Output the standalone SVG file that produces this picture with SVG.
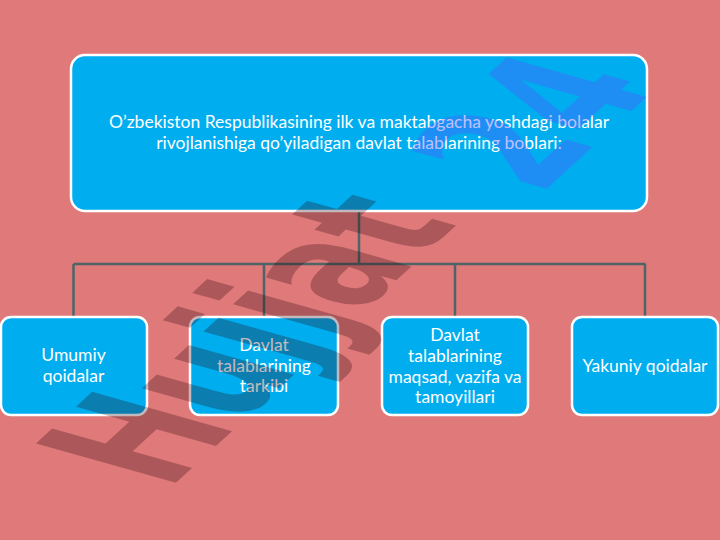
<svg xmlns="http://www.w3.org/2000/svg" width="720" height="540" viewBox="0 0 720 540">
<style>
.bg{fill:#E07A7A}
.box{fill:#00AEEF;stroke:#FFFFFF;stroke-width:2.5}
.lbl{font-family:Lato,"Open Sans","Liberation Sans",sans-serif;font-size:17.5px;fill:#FFFFFF;text-anchor:middle}
.conn{stroke:#4E6466;stroke-width:2.5;fill:none}
.wm{font-family:"DejaVu Sans",sans-serif;font-weight:bold;font-size:100px}
</style>
<rect class="bg" x="0" y="0" width="720" height="540"/>
<g id="connectors">
<path class="conn" d="M359,211 V264"/>
<path class="conn" d="M73.5,264 H645.5"/>
<path class="conn" d="M73.5,264 V317 M264,264 V317 M455,264 V317 M645,264 V317"/>
</g>
<g id="root">
<rect class="box" x="71" y="55" width="576" height="156" rx="14"/>
<text class="lbl" x="359" y="128">O’zbekiston Respublikasining ilk va maktabgacha yoshdagi bolalar</text>
<text class="lbl" x="359" y="149">rivojlanishiga qo’yiladigan davlat talablarining boblari:</text>
</g>
<g id="n1">
<rect class="box" x="1" y="317" width="146" height="98" rx="10"/>
<text class="lbl" x="73.5" y="361">Umumiy</text>
<text class="lbl" x="73.5" y="382">qoidalar</text>
</g>
<g id="n2">
<rect class="box" x="190" y="317" width="148" height="98" rx="10"/>
<text class="lbl" x="264" y="351">Davlat</text>
<text class="lbl" x="264" y="371.5">talablarining</text>
<text class="lbl" x="264" y="391.5">tarkibi</text>
</g>
<g id="n3">
<rect class="box" x="382" y="317" width="146" height="98" rx="10"/>
<text class="lbl" x="455" y="341">Davlat</text>
<text class="lbl" x="455" y="362">talablarining</text>
<text class="lbl" x="455" y="382.5">maqsad, vazifa va</text>
<text class="lbl" x="455" y="403">tamoyillari</text>
</g>
<g id="n4">
<rect class="box" x="572" y="317" width="146" height="98" rx="10"/>
<text class="lbl" x="645" y="371.5">Yakuniy qoidalar</text>
</g>
<g id="watermark">
<text class="wm" transform="matrix(0.86,-0.79,1.92,0.54,168,490)" fill="rgb(40,0,10)" fill-opacity="0.28">Hujjat</text>
<text class="wm" transform="matrix(0.86,-0.79,1.92,0.54,540,195)" fill="rgb(80,90,255)" fill-opacity="0.38">24</text>
</g>
</svg>
